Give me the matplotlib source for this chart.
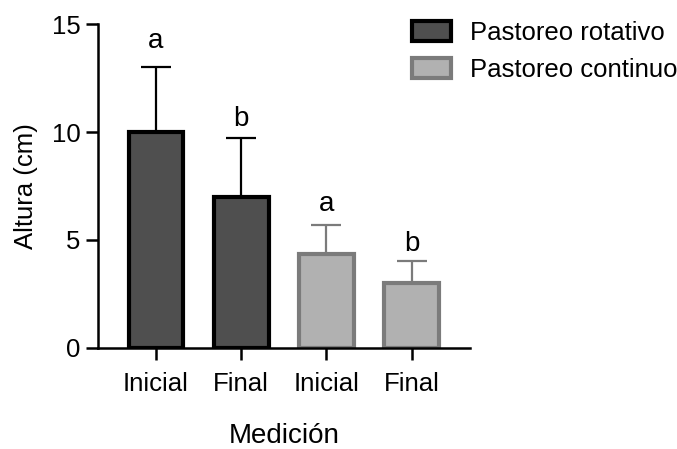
import matplotlib.pyplot as plt
from matplotlib.patches import Patch
import numpy as np

plt.rcParams['font.family'] = ['Liberation Sans', 'DejaVu Sans']

# datos
etiquetas = ['Inicial', 'Final', 'Inicial', 'Final']
medias = [10.0, 7.0, 4.35, 3.0]
desv = [3.0, 2.7, 1.35, 1.05]
letras = ['a', 'b', 'a', 'b']
grupos = ['Pastoreo rotativo', 'Pastoreo continuo']
grupo_idx = [0, 0, 1, 1]

relleno = ['#4f4f4f', '#b1b1b1']
borde = ['#000000', '#7b7b7b']
offs_letra = [0.9, 0.6, 0.65, 0.45]

fig = plt.figure(figsize=(6.77, 4.49), dpi=100)
ax = fig.add_axes([0.1448, 0.225, 0.549, 0.7215])

x = np.arange(len(medias))
for i in x:
    g = grupo_idx[i]
    ax.bar(x[i], medias[i], width=0.64, color=relleno[g], edgecolor=borde[g],
           linewidth=3, zorder=2)
    ax.errorbar(x[i], medias[i], yerr=[[0], [desv[i]]], fmt='none',
                ecolor=borde[g], elinewidth=1.6, capsize=10.5, capthick=1.6, zorder=1)
    ax.text(x[i], medias[i] + desv[i] + offs_letra[i], letras[i], ha='center',
            va='baseline', fontsize=20)

ax.set_xlim(-0.68, 3.68)
ax.set_ylim(0, 15)
ax.set_yticks([0, 5, 10, 15])
ax.set_xticks(x)
ax.set_xticklabels(etiquetas)
ax.tick_params(labelsize=18.5, width=1.8, length=8.5, pad=4)
ax.tick_params(axis='x', pad=9)
for s in ['top', 'right']:
    ax.spines[s].set_visible(False)
for s in ['left', 'bottom']:
    ax.spines[s].set_linewidth(1.8)
ax.set_ylabel('Altura (cm)', fontsize=18.5, labelpad=10)
ax.set_xlabel('Medición', fontsize=20, labelpad=19)

handles = [Patch(facecolor=relleno[k], edgecolor=borde[k], linewidth=3) for k in range(2)]
fig.legend(handles, grupos, loc='upper left', bbox_to_anchor=(0.575, 1.005),
           frameon=False, fontsize=18.5, handlelength=1.5, handleheight=0.8,
           handletextpad=0.75, labelspacing=0.5)

fig.savefig('out.png', dpi=100)
